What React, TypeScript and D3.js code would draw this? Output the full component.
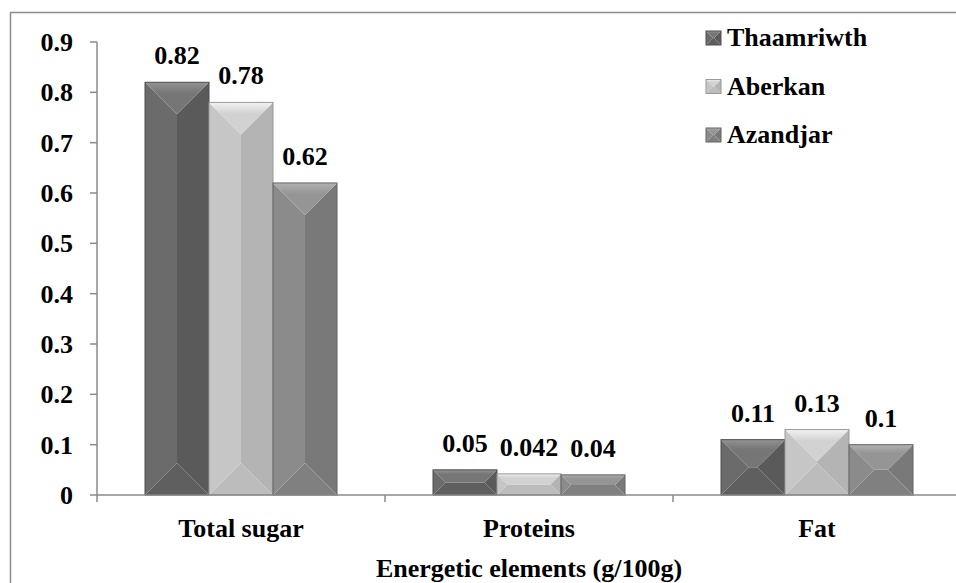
import React from "react";
import * as d3 from "d3";

const categories = ["Total sugar", "Proteins", "Fat"];
const seriesNames = ["Thaamriwth", "Aberkan", "Azandjar"];
const thaamriwth = [0.82, 0.05, 0.11];
const aberkan = [0.78, 0.042, 0.13];
const azandjar = [0.62, 0.04, 0.1];
const yTickValues = [0, 0.1, 0.2, 0.3, 0.4, 0.5, 0.6, 0.7, 0.8, 0.9];
const yTickLabels = ["0", "0.1", "0.2", "0.3", "0.4", "0.5", "0.6", "0.7", "0.8", "0.9"];
const xTitle = "Energetic elements (g/100g)";

const W = 956;
const H = 583;

const shades = [
  { top: "#767676", topHi: "#929292", left: "#6b6b6b", right: "#5a5a5a", bottom: "#5f5f5f", stroke: "#4e4e4e" },
  { top: "#d2d2d2", topHi: "#f2f2f2", left: "#c6c6c6", right: "#b4b4b4", bottom: "#bcbcbc", stroke: "#999999" },
  { top: "#959595", topHi: "#b0b0b0", left: "#8b8b8b", right: "#797979", bottom: "#808080", stroke: "#646464" },
];

function bevel(x0: number, y0: number, x1: number, y1: number) {
  const w = x1 - x0;
  const h = y1 - y0;
  const d = Math.min(w, h) / 2;
  const p = (pts: number[][]) => pts.map((q) => q.join(",")).join(" ");
  return {
    top: p([[x0, y0], [x1, y0], [x1 - d, y0 + d], [x0 + d, y0 + d]]),
    bottom: p([[x0, y1], [x1, y1], [x1 - d, y1 - d], [x0 + d, y1 - d]]),
    left: p([[x0, y0], [x0 + d, y0 + d], [x0 + d, y1 - d], [x0, y1]]),
    right: p([[x1, y0], [x1 - d, y0 + d], [x1 - d, y1 - d], [x1, y1]]),
  };
}

function BevelRect({ x0, y0, x1, y1, si, id }: { x0: number; y0: number; x1: number; y1: number; si: number; id: string }) {
  const b = bevel(x0, y0, x1, y1);
  const s = shades[si];
  return (
    <g>
      <polygon points={b.left} fill={s.left} />
      <polygon points={b.right} fill={s.right} />
      <polygon points={b.bottom} fill={s.bottom} />
      <polygon points={b.top} fill={`url(#${id})`} />
      <rect x={x0} y={y0} width={x1 - x0} height={y1 - y0} fill="none" stroke={s.stroke} strokeWidth={1} />
    </g>
  );
}

const textStyle: React.CSSProperties = {
  fontFamily: "Liberation Serif",
  fontWeight: 700,
  fontSize: "26px",
};

export default function App() {
  const series = [thaamriwth, aberkan, azandjar];
  const plotLeft = 97;
  const plotRight = 961;
  const plotTop = 42;
  const plotBottom = 495;

  const y = d3.scaleLinear().domain([0, 0.9]).range([plotBottom, plotTop]);
  const x0 = d3.scaleBand<string>().domain(categories).range([plotLeft, plotRight]).paddingInner(0).paddingOuter(0);
  const x1 = d3
    .scaleBand<string>()
    .domain(seriesNames)
    .range([0, x0.bandwidth()])
    .paddingInner(0)
    .paddingOuter(0.75);

  const axisColor = "#8a8a8a";
  const catBounds = [...categories.map((c) => x0(c) as number), plotRight];

  return (
    <svg width={W} height={H} style={{ position: "absolute", left: 0, top: 0, background: "#fff" }}>
      <defs>
        {shades.map((s, i) => (
          <linearGradient key={i} id={`topg${i}`} x1="0" y1="0" x2="0" y2="1">
            <stop offset="0" stopColor={s.topHi} />
            <stop offset="0.35" stopColor={s.top} />
            <stop offset="1" stopColor={s.top} />
          </linearGradient>
        ))}
      </defs>
      <rect x={0} y={0} width={W} height={H} fill="#fff" />
      <rect x={10.5} y={12.5} width={W + 20} height={H + 20} fill="none" stroke="#8c8c8c" strokeWidth={1.5} />

      {categories.map((c, ci) =>
        seriesNames.map((sn, si) => {
          const v = series[si][ci];
          const bx0 = (x0(c) as number) + (x1(sn) as number);
          const bx1 = bx0 + x1.bandwidth();
          const by0 = y(v);
          const by1 = y(0);
          return (
            <g key={`${c}-${sn}`}>
              <BevelRect x0={bx0} y0={by0} x1={bx1} y1={by1} si={si} id={`topg${si}`} />
              <text x={(bx0 + bx1) / 2} y={by0 - 18} textAnchor="middle" style={textStyle} fill="#000">
                {String(v)}
              </text>
            </g>
          );
        })
      )}

      <line x1={plotLeft} y1={plotTop} x2={plotLeft} y2={plotBottom} stroke={axisColor} strokeWidth={1.5} />
      {yTickValues.map((t, i) => (
        <g key={t}>
          <line x1={plotLeft - 7} x2={plotLeft} y1={y(t)} y2={y(t)} stroke={axisColor} strokeWidth={1.5} />
          <text x={73} y={y(t) + 9} textAnchor="end" style={textStyle} fill="#000">
            {yTickLabels[i]}
          </text>
        </g>
      ))}

      <line x1={plotLeft} y1={plotBottom} x2={plotRight} y2={plotBottom} stroke={axisColor} strokeWidth={1.5} />
      {catBounds.map((bx, i) => (
        <line key={i} x1={bx} x2={bx} y1={plotBottom} y2={plotBottom + 7} stroke={axisColor} strokeWidth={1.5} />
      ))}
      {categories.map((c) => (
        <text key={c} x={(x0(c) as number) + x0.bandwidth() / 2} y={537} textAnchor="middle" style={textStyle} fill="#000">
          {c}
        </text>
      ))}
      <text x={(plotLeft + plotRight) / 2} y={577} textAnchor="middle" style={textStyle} fill="#000">
        {xTitle}
      </text>

      {seriesNames.map((sn, i) => {
        const base = 46 + i * 48.5;
        return (
          <g key={sn}>
            <BevelRect x0={706} y0={base - 15} x1={721} y1={base - 1} si={i} id={`topg${i}`} />
            <text x={727} y={base} style={textStyle} fill="#000">
              {sn}
            </text>
          </g>
        );
      })}
    </svg>
  );
}
